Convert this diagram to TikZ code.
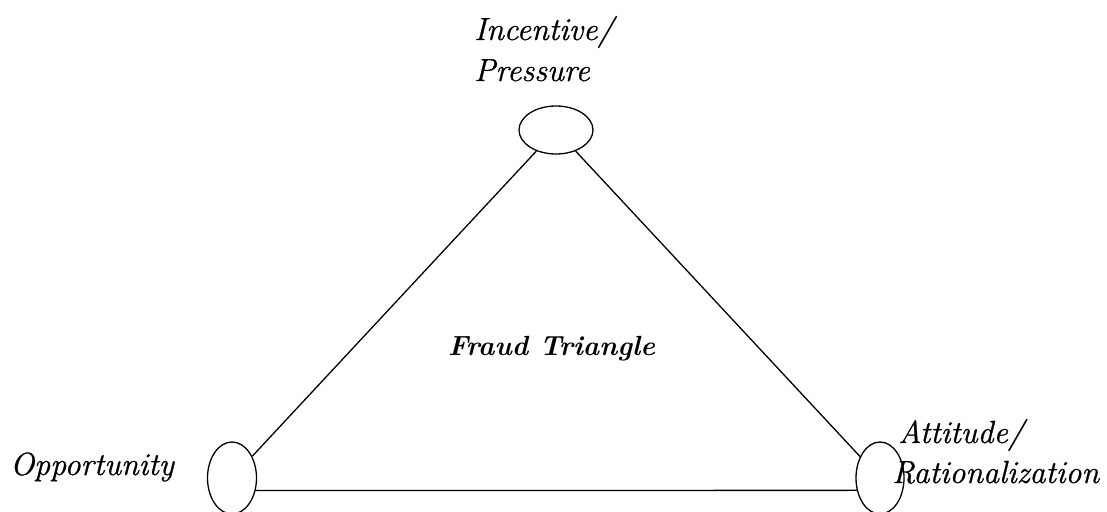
\documentclass[tikz,border=0pt]{standalone}
\usepackage{fontspec}
\newfontfamily\lblfont{Latin Modern Roman}[ItalicFeatures={FakeBold=0.8}]
\usetikzlibrary{shapes.geometric}
\tikzset{
  vertex/.style={draw, ellipse, line width=1.3pt, inner sep=0pt},
  side/.style={line width=1.3pt},
  lbl/.style={font=\lblfont\fontsize{32}{40}\selectfont\itshape, anchor=base west, inner sep=0pt, align=left},
}
\begin{document}
\begin{tikzpicture}[x=1pt,y=-1pt]
\useasboundingbox (0,0) rectangle (1107,511);
\clip (0,0) rectangle (1107,511);
\node[vertex, minimum width=74pt, minimum height=48pt] (top) at (556,130) {};
\node[vertex, minimum width=49pt, minimum height=72pt] (left) at (232,478) {};
\node[vertex, minimum width=48pt, minimum height=72pt] (right) at (880,478) {};
\draw[side] (top) -- (left);
\draw[side] (top) -- (right);
\draw[side] (left.-28) -- (right.208);
\node[lbl] (t1) at (474,40) {Incentive/};
\node[lbl] (t2) at (474,81) {Pressure};
\node[lbl] (t3) at (10,475) {Opportunity};
\node[lbl] (t4) at (898,443) {Attitude/};
\node[lbl] (t5) at (892,483) {Rationalization};
\node[lbl, font=\fontsize{27.7}{40}\selectfont\bfseries\itshape] (t6) at (448,355) {Fraud Triangle};
\end{tikzpicture}
\end{document}
